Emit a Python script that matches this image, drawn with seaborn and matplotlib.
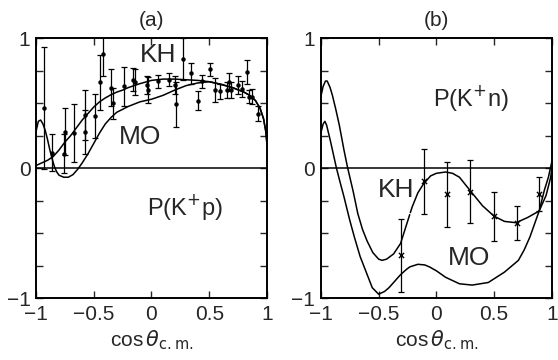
import numpy as np
import pandas as pd
import matplotlib
matplotlib.use("Agg")
import matplotlib.pyplot as plt
from matplotlib.ticker import MultipleLocator
import seaborn as sns

# panel (a): P(K+p) data points (cos theta, P, error)
a_x = [-0.93, -0.86, -0.75, -0.76, -0.67, -0.58, -0.58, -0.49, -0.45, -0.42,
       -0.35, -0.33, -0.24, -0.16, -0.14, -0.04, -0.03, 0.06, 0.15, 0.20,
       0.21, 0.27, 0.34, 0.40, 0.44, 0.51, 0.55, 0.59, 0.65, 0.67,
       0.69, 0.75, 0.78, 0.83, 0.84, 0.87, 0.92]
a_y = [0.46, 0.12, 0.28, 0.11, 0.27, 0.41, 0.28, 0.40, 0.66, 0.88,
       0.62, 0.50, 0.63, 0.68, 0.66, 0.64, 0.60, 0.67, 0.68, 0.64,
       0.49, 0.84, 0.73, 0.52, 0.67, 0.76, 0.60, 0.59, 0.60, 0.66,
       0.60, 0.64, 0.61, 0.74, 0.55, 0.55, 0.42]
a_err = [0.47, 0.14, 0.18, 0.15, 0.22, 0.19, 0.17, 0.17, 0.21, 0.17,
         0.14, 0.12, 0.15, 0.09, 0.10, 0.07, 0.10, 0.05, 0.05, 0.07,
         0.17, 0.16, 0.08, 0.07, 0.05, 0.05, 0.09, 0.06, 0.06, 0.07,
         0.06, 0.07, 0.06, 0.09, 0.05, 0.06, 0.06]

# panel (a) curves
a_kh_x = [-1.00, -0.95, -0.90, -0.85, -0.80, -0.75, -0.70, -0.65, -0.60, -0.55,
          -0.50, -0.45, -0.40, -0.35, -0.30, -0.25, -0.20, -0.10, 0.00, 0.10,
          0.20, 0.30, 0.40, 0.50, 0.60, 0.70, 0.80, 0.85, 0.90, 0.94,
          0.97, 0.99, 1.00]
a_kh_y = [0.02, 0.04, 0.06, 0.09, 0.14, 0.20, 0.25, 0.31, 0.37, 0.42,
          0.47, 0.51, 0.54, 0.565, 0.585, 0.60, 0.62, 0.65, 0.675, 0.685,
          0.685, 0.68, 0.675, 0.665, 0.645, 0.62, 0.585, 0.56, 0.52, 0.46,
          0.38, 0.28, 0.18]
a_mo_x = [-1.00, -0.98, -0.96, -0.94, -0.92, -0.90, -0.88, -0.86, -0.84, -0.82,
          -0.80, -0.76, -0.72, -0.68, -0.64, -0.60, -0.55, -0.50, -0.45, -0.40,
          -0.35, -0.30, -0.20, -0.10, 0.00, 0.10, 0.20, 0.30, 0.40, 0.50,
          0.60, 0.70, 0.80, 0.85, 0.90, 0.94, 0.97, 0.99, 1.00]
a_mo_y = [0.28, 0.36, 0.37, 0.34, 0.29, 0.22, 0.14, 0.07, 0.01, -0.03,
          -0.055, -0.07, -0.07, -0.05, -0.01, 0.04, 0.11, 0.19, 0.27, 0.34,
          0.39, 0.43, 0.475, 0.51, 0.53, 0.56, 0.60, 0.635, 0.655, 0.665,
          0.645, 0.62, 0.585, 0.56, 0.52, 0.46, 0.38, 0.28, 0.18]

# panel (b): P(K+n) data points
b_x = [-0.31, -0.11, 0.09, 0.29, 0.50, 0.70, 0.89]
b_y = [-0.67, -0.10, -0.20, -0.18, -0.37, -0.42, -0.20]
b_err = [0.28, 0.25, 0.25, 0.24, 0.19, 0.13, 0.13]

# panel (b) curves
b_kh_x = [-1.00, -0.98, -0.96, -0.945, -0.92, -0.90, -0.87, -0.84, -0.80, -0.77,
          -0.72, -0.68, -0.64, -0.60, -0.55, -0.50, -0.47, -0.43, -0.37, -0.31,
          -0.26, -0.21, -0.16, -0.11, -0.05, 0.00, 0.08, 0.14, 0.20, 0.29,
          0.40, 0.50, 0.59, 0.69, 0.79, 0.89, 0.95, 0.99, 1.00]
b_kh_y = [0.55, 0.63, 0.67, 0.67, 0.62, 0.56, 0.45, 0.33, 0.14, 0.01,
          -0.18, -0.35, -0.47, -0.56, -0.65, -0.70, -0.71, -0.70, -0.66, -0.58,
          -0.44, -0.30, -0.19, -0.12, -0.06, -0.04, -0.03, -0.04, -0.07, -0.17,
          -0.29, -0.37, -0.41, -0.42, -0.38, -0.33, -0.21, -0.07, 0.00]
b_mo_x = [-1.00, -0.98, -0.965, -0.95, -0.92, -0.89, -0.865, -0.83, -0.80, -0.75,
          -0.71, -0.66, -0.625, -0.555, -0.50, -0.45, -0.41, -0.36, -0.31, -0.26,
          -0.23, -0.16, -0.10, -0.06, 0.00, 0.08, 0.20, 0.31, 0.45, 0.59,
          0.71, 0.76, 0.81, 0.89, 0.935, 0.97, 1.00]
b_mo_y = [0.27, 0.34, 0.36, 0.33, 0.22, 0.10, 0.00, -0.12, -0.22, -0.40,
          -0.53, -0.68, -0.76, -0.92, -0.97, -0.95, -0.92, -0.87, -0.82, -0.78,
          -0.76, -0.74, -0.745, -0.76, -0.79, -0.84, -0.89, -0.90, -0.88, -0.80,
          -0.71, -0.63, -0.53, -0.33, -0.17, -0.07, 0.05]

x_ticks = [-1, -0.5, 0, 0.5, 1]
x_tick_labels = ["\u22121", "\u22120.5", "0", "0.5", "1"]
y_ticks = [-1, 0, 1]
y_tick_labels = ["\u22121", "0", "1"]

sns.set_style("ticks")
plt.rcParams['font.family'] = ['Liberation Sans', 'DejaVu Sans']
plt.rcParams['mathtext.fontset'] = 'dejavusans'

fig = plt.figure(figsize=(5.58, 3.6), dpi=100)
ax_a = fig.add_axes([0.0645, 0.172, 0.414, 0.722])
ax_b = fig.add_axes([0.575, 0.172, 0.414, 0.722])

lw = 1.1


def style_axis(ax, title):
    ax.set_xlim(-1, 1)
    ax.set_ylim(-1, 1)
    ax.axhline(0, color="black", lw=lw)
    ax.set_xticks(x_ticks)
    ax.set_xticklabels(x_tick_labels, fontsize=15)
    ax.set_yticks(y_ticks)
    ax.set_yticklabels(y_tick_labels, fontsize=15)
    ax.yaxis.set_minor_locator(MultipleLocator(0.25))
    ax.tick_params(which="both", direction="in", top=True, right=True,
                   length=5, width=1.0)
    ax.tick_params(axis="x", pad=5)
    ax.tick_params(axis="y", pad=4)
    for s in ax.spines.values():
        s.set_linewidth(1.4)
        s.set_color("black")
    ax.set_xlabel(r"cos$\,\theta_{\rm c.m.}$", fontsize=15, labelpad=3)
    ax.set_ylabel("")
    ax.set_title(title, fontsize=15, pad=9)


# panel (a)
curves_a = pd.DataFrame({"x": a_kh_x, "y": a_kh_y})
sns.lineplot(data=curves_a, x="x", y="y", ax=ax_a, color="black", lw=lw,
             sort=False, estimator=None)
sns.lineplot(x=a_mo_x, y=a_mo_y, ax=ax_a, color="black", lw=lw,
             sort=False, estimator=None)
ax_a.errorbar(a_x, a_y, yerr=a_err, fmt="none", ecolor="black",
              elinewidth=0.9, capsize=2, capthick=0.9)
sns.scatterplot(x=a_x, y=a_y, ax=ax_a, color="black", s=8, marker="o",
                edgecolor="black", linewidth=0.3)
style_axis(ax_a, "(a)")
ax_a.text(0.06, 0.87, "KH", fontsize=19, ha="center", va="center")
ax_a.annotate("", xy=(-0.03, 0.70), xytext=(-0.01, 0.80),
              arrowprops=dict(arrowstyle="-", lw=0.8,
                              connectionstyle="angle3,angleA=20,angleB=100"))
ax_a.text(-0.10, 0.24, "MO", fontsize=19, ha="center", va="center")
ax_a.annotate("", xy=(-0.31, 0.43), xytext=(-0.27, 0.36),
              arrowprops=dict(arrowstyle="-", lw=0.8,
                              connectionstyle="angle3,angleA=20,angleB=100"))
ax_a.text(0.29, -0.30, "P(K$^{+}$p)", fontsize=17, ha="center", va="center")

# panel (b)
sns.lineplot(x=b_kh_x, y=b_kh_y, ax=ax_b, color="black", lw=lw,
             sort=False, estimator=None)
sns.lineplot(x=b_mo_x, y=b_mo_y, ax=ax_b, color="black", lw=lw,
             sort=False, estimator=None)
ax_b.errorbar(b_x, b_y, yerr=b_err, fmt="none", ecolor="black",
              elinewidth=0.9, capsize=2.5, capthick=0.9)
sns.scatterplot(x=b_x, y=b_y, ax=ax_b, color="black", s=14, marker="x",
                linewidth=1.0)
style_axis(ax_b, "(b)")
ax_b.text(0.30, 0.54, "P(K$^{+}$n)", fontsize=17, ha="center", va="center")
ax_b.text(-0.35, -0.17, "KH", fontsize=19, ha="center", va="center")
ax_b.annotate("", xy=(-0.20, -0.42), xytext=(-0.28, -0.34),
              arrowprops=dict(arrowstyle="-", lw=0.8,
                              connectionstyle="angle3,angleA=0,angleB=80"))
ax_b.text(0.28, -0.69, "MO", fontsize=19, ha="center", va="center")
ax_b.annotate("", xy=(0.33, -0.90), xytext=(0.30, -0.80),
              arrowprops=dict(arrowstyle="-", lw=0.8,
                              connectionstyle="angle3,angleA=20,angleB=100"))

fig.savefig("out.png", dpi=100)
